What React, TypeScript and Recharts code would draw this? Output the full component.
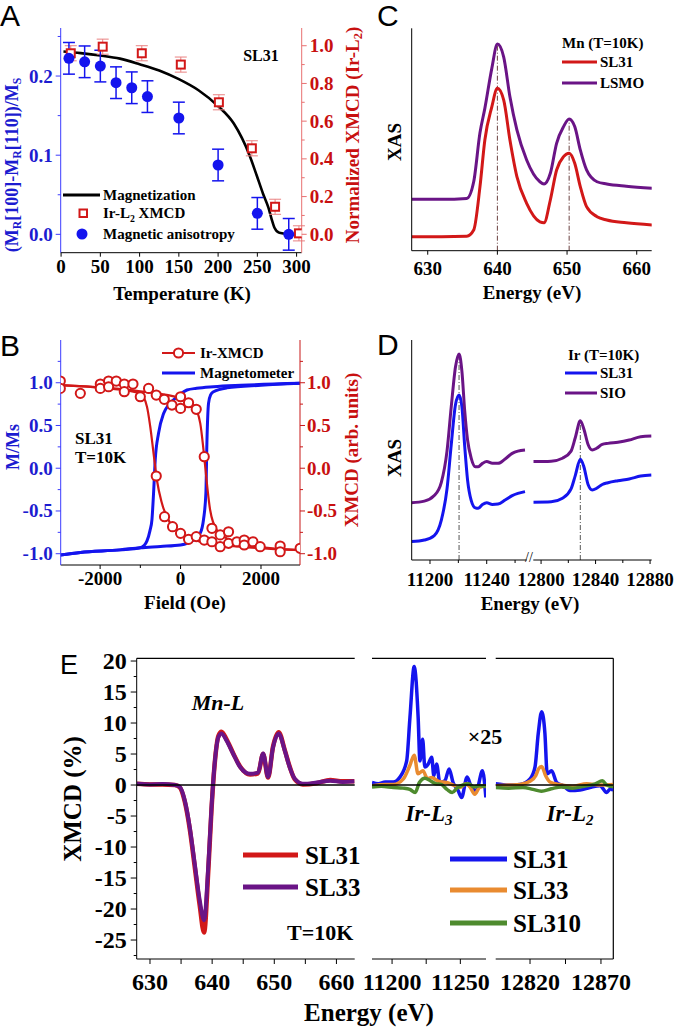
import React from 'react';
import { ComposedChart, Line, Scatter, XAxis, YAxis, ErrorBar, ReferenceLine } from 'recharts';

const SERIF = '"Liberation Serif", "Times New Roman", serif';
const SANS = '"Liberation Sans", Arial, sans-serif';

const BLUE = '#1414ee';
const RED = '#d21818';
const PURPLE = '#6a1486';
const ORANGE = '#e98b30';
const GREEN = '#4e8b2e';

// ---------- A: temperature dependence ----------
const aTempAniso = [10, 30, 50, 70, 90, 110, 150, 200, 250, 290];
const aAniso = [0.2224, 0.218, 0.2126, 0.1916, 0.1852, 0.174, 0.147, 0.0876, 0.0265, 0.0];
const aAnisoErr = [0.02, 0.02, 0.02, 0.02, 0.02, 0.02, 0.02, 0.02, 0.02, 0.02];
const aTempXmcd = [12.3, 53, 102.8, 152.5, 201, 243, 272.6, 303];
const aXmcd = [0.96, 0.995, 0.96, 0.9, 0.7, 0.456, 0.146, 0.005];
const aXmcdErr = [0.04, 0.04, 0.04, 0.04, 0.04, 0.04, 0.04, 0.04];
const aTempMag = [3, 25, 50, 75, 100, 125, 150, 175, 200, 220, 240, 249, 257, 264, 268, 272, 278, 290, 306];
const aMag = [0.231, 0.229, 0.226, 0.222, 0.215, 0.207, 0.196, 0.182, 0.162, 0.14, 0.1, 0.075, 0.052, 0.034, 0.02, 0.008, 0.002, 0.0005, 0];

// ---------- B: hysteresis ----------
const bBlueUpH = [-2990, -2492, -1500, -1001, -900, -835, -760, -711, -671, -629, -547, -422, -300, -174, 0, 159, 400, 820, 1500, 2974];
const bBlueUpM = [-1.015, -0.985, -0.955, -0.93, -0.9, -0.85, -0.73, -0.6, -0.29, 0.1, 0.41, 0.64, 0.74, 0.8, 0.87, 0.915, 0.935, 0.953, 0.97, 0.993];
const bBlueDnH = [-2990, -2492, -1500, -1001, -500, 0, 323, 490, 571, 630, 655, 696, 750, 820, 1153, 2000, 2974];
const bBlueDnM = [-1.015, -0.985, -0.955, -0.93, -0.915, -0.898, -0.84, -0.76, -0.6, -0.29, 0.29, 0.76, 0.86, 0.895, 0.94, 0.97, 0.993];
const bRed1H = [-2990, -1829, -1001, -835, -753, -671, -588, -463, -256, 0, 490, 1483, 2974];
const bRed1M = [0.973, 0.934, 0.876, 0.72, 0.485, 0.174, -0.138, -0.41, -0.644, -0.76, -0.86, -0.918, -0.957];
const bRed2H = [-2990, -1001, 0, 323, 490, 571, 655, 736, 902, 1236, 1898, 2974];
const bRed2M = [0.973, 0.9, 0.818, 0.74, 0.525, 0.213, -0.177, -0.489, -0.723, -0.84, -0.918, -0.957];
const bPtsH = [-2990, -2990, -2492, -1995, -1995, -1789, -1789, -1598, -1399, -1399, -1183, -1001, -795, -604, -405, -214, 0, 0, 199, 390, 589,
  -604, -398, -199, 0, 199, 390, 589, 780, 780, 986, 986, 1193, 1193, 1401, 1583, 1583, 1799, 1980, 2477, 2477, 2974];
const bPtsM = [1.02, 0.934, 0.876, 0.985, 0.934, 1.02, 0.953, 1.02, 0.985, 0.895, 0.985, 0.836, 0.934, 0.856, 0.806, 0.739, 0.836, 0.7, 0.766, 0.689, 0.135,
  -0.091, -0.567, -0.684, -0.762, -0.832, -0.8, -0.84, -0.703, -0.86, -0.78, -0.918, -0.743, -0.879, -0.86, -0.84, -0.898, -0.86, -0.918, -0.91, -0.977, -0.937];

// ---------- C: Mn XAS ----------
const cE = [627.7, 632, 635.6, 636.6, 637.5, 638.2, 639.2, 640.0, 640.9, 641.8, 642.8, 644.2, 646.1, 646.7, 647.6, 648.5, 649.5, 650.3, 651.1, 651.9, 652.8, 654.3, 655.7, 658.5, 662.2];
const cSL31 = [0.063, 0.063, 0.065, 0.093, 0.288, 0.498, 0.647, 0.73, 0.678, 0.498, 0.333, 0.213, 0.13, 0.126, 0.228, 0.363, 0.423, 0.438, 0.393, 0.288, 0.198, 0.153, 0.138, 0.126, 0.116];
const cLSMO = [0.231, 0.231, 0.235, 0.31, 0.53, 0.64, 0.82, 0.929, 0.872, 0.692, 0.543, 0.408, 0.31, 0.3, 0.348, 0.483, 0.558, 0.592, 0.558, 0.453, 0.363, 0.31, 0.3, 0.29, 0.281];
const cPeakE = [640.0, 650.3];
const cPeakTop = [0.929, 0.592];

// ---------- D: Ir XAS ----------
const dLE = [11187, 11196, 11203, 11208, 11212, 11215, 11218, 11220.5, 11222.5, 11224.5, 11226.5, 11229, 11232, 11234, 11237, 11240, 11244, 11248, 11253, 11258, 11262, 11267];
const dLSIO = [0.268, 0.275, 0.3, 0.36, 0.5, 0.7, 0.88, 0.937, 0.86, 0.68, 0.55, 0.47, 0.43, 0.43, 0.445, 0.453, 0.445, 0.445, 0.465, 0.49, 0.5, 0.505];
const dLSL31 = [0.093, 0.1, 0.12, 0.19, 0.33, 0.53, 0.71, 0.753, 0.7, 0.52, 0.37, 0.28, 0.245, 0.243, 0.26, 0.268, 0.26, 0.262, 0.28, 0.3, 0.31, 0.318];
const dRE = [12794.3, 12807.4, 12815.7, 12822, 12825.1, 12828.8, 12831.4, 12834.5, 12837.6, 12840.8, 12844.9, 12849.1, 12856.4, 12864.7, 12873.1, 12881];
const dRSIO = [0.453, 0.455, 0.468, 0.5, 0.56, 0.637, 0.6, 0.53, 0.505, 0.513, 0.53, 0.535, 0.54, 0.55, 0.565, 0.568];
const dRSL31 = [0.27, 0.272, 0.288, 0.33, 0.39, 0.463, 0.43, 0.35, 0.325, 0.333, 0.35, 0.358, 0.367, 0.375, 0.388, 0.393];
const dPeakL = 11220.5;
const dPeakLTop = 0.937;
const dPeakR = 12828.8;
const dPeakRTop = 0.637;

// ---------- E: XMCD ----------
const eMnE = [627.9, 630, 632, 634, 634.8, 635.6, 636.4, 637.2, 638.0, 638.7, 639.4, 639.9, 640.4, 641.0, 641.5, 642.3, 643.4, 644.5, 646.1, 647.4, 648.2, 649.0, 649.8, 650.7, 651.7, 652.5, 653.3, 654.6, 656.8, 659, 661, 662.9];
const eMnSL31 = [0.2, 0.1, 0.1, 0.0, -0.4, -2.7, -7.1, -13.2, -19.4, -23.8, -13.5, -3.9, 3.3, 7.9, 8.6, 7.4, 5.1, 3.0, 1.7, 1.9, 5.0, 1.2, 6.2, 8.5, 5.6, 2.9, 0.9, 0.1, 0.3, 0.8, 0.6, 0.6];
const eMnSL33 = [0.2, 0.1, 0.15, 0.0, -0.3, -2.5, -6.8, -12.7, -18.6, -21.8, -12.7, -3.6, 3.4, 7.7, 8.3, 7.2, 5.0, 2.9, 1.8, 2.0, 5.1, 1.3, 6.1, 8.3, 5.5, 2.8, 1.0, 0.2, 0.4, 0.7, 0.5, 0.6];
const eL3E31 = [11185.3, 11190, 11195, 11200.9, 11205.8, 11210.7, 11213.1, 11216.2, 11219.1, 11220.4, 11222.4, 11224, 11226.5, 11229, 11230.6, 11232.6, 11235, 11238.7, 11241.8, 11244.7, 11248.4, 11250.9, 11255, 11258.2, 11261.8, 11266.2, 11268.7];
const eL3SL31 = [0.4, 0.2, 0.5, 0.5, 1.3, 3.9, 10.9, 19.1, 10.9, 3.9, 7.4, 2.9, 3.4, 4.5, 1.5, 3.4, 0.4, 0.7, 2.6, 0.4, -0.9, -2.0, 1.3, -0.4, -0.9, 2.3, -2.0];
const eL3E33 = [11185.3, 11195, 11201, 11208.3, 11213.1, 11216.2, 11219, 11222.6, 11226, 11229, 11234, 11240, 11245, 11249.6, 11254, 11257, 11260.6, 11264, 11268.7];
const eL3SL33 = [-0.1, 0.1, 0.1, 1.0, 3.2, 4.8, 1.8, 2.3, 1.0, 1.2, 0.6, 0.4, 0.0, -0.4, 0.2, -0.3, -1.5, -0.4, -0.1];
const eL3E310 = [11185.3, 11192, 11201, 11208, 11213, 11216.9, 11220, 11224, 11228, 11232, 11236, 11240.2, 11244, 11248, 11252, 11256, 11260, 11264, 11268.7];
const eL3SL310 = [-0.3, -0.2, -0.4, -0.5, -0.7, -1.2, 0.4, 1.1, 0.7, 0.2, 0.1, -0.7, -1.2, -0.4, 0.0, 0.2, -0.3, -0.1, -0.3];
const eL2E31 = [12795.8, 12805, 12812.9, 12820, 12823.5, 12825.8, 12828.2, 12830.5, 12832.1, 12835.2, 12838.8, 12843.4, 12848.1, 12855.2, 12862.2, 12869.3, 12874, 12876.8, 12878.7];
const eL2SL31 = [0.2, 0.0, 0.1, 1.0, 2.9, 8.3, 11.8, 8.3, 1.8, 2.3, 0.4, -0.1, -0.9, -0.8, -0.4, -0.1, -1.2, -0.6, -0.9];
const eL2E33 = [12795.8, 12805, 12813, 12820, 12824, 12826, 12828.2, 12831, 12834, 12840, 12850, 12860, 12870, 12878.7];
const eL2SL33 = [-0.1, 0.0, 0.1, 0.6, 1.5, 2.6, 3.0, 1.5, 0.5, 0.1, -0.2, 0.2, 0.0, 0.1];
const eL2E310 = [12795.8, 12805, 12815, 12822, 12828, 12835, 12842, 12850, 12858, 12866, 12871, 12874, 12878.7];
const eL2SL310 = [-0.4, -0.5, -0.4, -0.7, -1.0, -0.6, -0.3, -0.5, -0.2, 0.2, 0.7, 0.0, -0.3];

const eTicksY = [-27.5, -25, -22.5, -20, -17.5, -15, -12.5, -10, -7.5, -5, -2.5, 0, 2.5, 5, 7.5, 10, 12.5, 15, 17.5, 20];
const eMajorsY = [-25, -20, -15, -10, -5, 0, 5, 10, 15, 20];
const eYDomain = [-28.06, 20.44];

type P = { x: number; y: number; e?: number };
const zip = (xs: number[], ys: number[], es?: number[]): P[] =>
  xs.map((x, i) => ({ x, y: ys[i], e: es ? es[i] : undefined }));

type TickOpt = {
  side: 'left' | 'right' | 'bottom';
  majors: number[];
  color: string;
  line?: string;
  size: number;
  len?: number;
  minor?: number;
  gap?: number;
  base?: number;
  fmt?: (v: number) => string;
};

const tickFn = (o: TickOpt) => (p: any) => {
  const v = Number(p.payload?.value);
  const major = o.majors.some((m) => Math.abs(m - v) < 1e-6);
  const len = major ? o.len ?? 5 : o.minor ?? 3;
  const stroke = o.line ?? o.color;
  const label = major ? (o.fmt ? o.fmt(v) : String(v)) : '';
  if (o.side === 'bottom') {
    return (
      <g>
        <line x1={p.x} y1={p.y} x2={p.x} y2={p.y + len} stroke={stroke} strokeWidth={1} />
        {label && (
          <text x={p.x} y={p.y + (o.base ?? 20)} textAnchor="middle" fontFamily={SERIF} fontWeight={700} fontSize={o.size} fill={o.color}>
            {label}
          </text>
        )}
      </g>
    );
  }
  const d = o.side === 'left' ? -1 : 1;
  return (
    <g>
      <line x1={p.x} y1={p.y} x2={p.x + d * len} y2={p.y} stroke={stroke} strokeWidth={1} />
      {label && (
        <text
          x={p.x + d * (len + (o.gap ?? 3))}
          y={p.y}
          textAnchor={d < 0 ? 'end' : 'start'}
          dominantBaseline="central"
          fontFamily={SERIF}
          fontWeight={700}
          fontSize={o.size}
          fill={o.color}
        >
          {label}
        </text>
      )}
    </g>
  );
};

const f1 = (v: number) => v.toFixed(1);
const axisBase = { type: 'number' as const, allowDataOverflow: true, interval: 0 as const, tickSize: 0, tickMargin: 0, tickLine: false };

const squareShape = (p: any) => (
  <rect x={p.cx - 4} y={p.cy - 4} width={8} height={8} fill="#fff" stroke={RED} strokeWidth={2} />
);
const dotShape = (p: any) => <circle cx={p.cx} cy={p.cy} r={5.5} fill={BLUE} />;
const ringShape = (p: any) => <circle cx={p.cx} cy={p.cy} r={4.6} fill="#fff" stroke={RED} strokeWidth={2} />;

// text pieces: plain strings, or {s: '...'} for a subscript
const withSubs = (parts: (string | { s: string })[], size: number) => {
  const d = size * 0.3;
  let lowered = false;
  return parts.map((part, i) => {
    if (typeof part === 'string') {
      const dy = lowered ? -d : 0;
      lowered = false;
      return <tspan key={i} dy={dy}>{part}</tspan>;
    }
    lowered = true;
    return <tspan key={i} dy={d} fontSize={size * 0.65}>{part.s}</tspan>;
  });
};

const Txt = ({ x, y, s, c = '#000', a = 'start', i = false, rot = false, w = 700, f = SERIF, children }: any) => (
  <text
    x={rot ? 0 : x}
    y={rot ? 0 : y}
    transform={rot ? `translate(${x},${y}) rotate(-90)` : undefined}
    textAnchor={a}
    dominantBaseline="central"
    fontFamily={f}
    fontSize={s}
    fontWeight={w}
    fontStyle={i ? 'italic' : 'normal'}
    fill={c}
  >
    {children}
  </text>
);

function PanelA() {
  return (
    <div style={{ position: 'absolute', left: 0, top: 0 }}>
      <ComposedChart width={340} height={300} margin={{ top: 28, right: 0.3, bottom: 17.3, left: 0.7 }}>
        <XAxis {...axisBase} dataKey="x" domain={[-0.5, 306.5]} ticks={[0, 50, 100, 150, 200, 250, 300]} height={30}
          axisLine={{ stroke: '#000' }} tick={tickFn({ side: 'bottom', majors: [0, 50, 100, 150, 200, 250, 300], color: '#000', size: 19, len: 4, base: 20 })} />
        <YAxis {...axisBase} yAxisId="l" domain={[-0.0232, 0.2607]} ticks={[0, 0.05, 0.1, 0.15, 0.2, 0.25]} width={60}
          axisLine={{ stroke: '#3c3cff' }} tick={tickFn({ side: 'left', majors: [0, 0.1, 0.2], color: '#1c1cd0', line: '#3c3cff', size: 19, fmt: f1 })} />
        <YAxis {...axisBase} yAxisId="r" orientation="right" domain={[-0.0976, 1.094]} ticks={[0, 0.1, 0.2, 0.3, 0.4, 0.5, 0.6, 0.7, 0.8, 0.9, 1.0]} width={38}
          axisLine={{ stroke: '#e87070' }} tick={tickFn({ side: 'right', majors: [0, 0.2, 0.4, 0.6, 0.8, 1.0], color: '#c81010', line: '#e87070', size: 19, fmt: f1 })} />
        <Line yAxisId="l" data={zip(aTempMag, aMag)} dataKey="y" type="monotone" stroke="#000" strokeWidth={2.6} dot={false} isAnimationActive={false} />
        <Scatter yAxisId="r" data={zip(aTempXmcd, aXmcd, aXmcdErr)} dataKey="y" shape={squareShape} isAnimationActive={false}>
          <ErrorBar dataKey="e" direction="y" width={6} stroke="#e98080" strokeWidth={1} />
        </Scatter>
        <Scatter yAxisId="l" data={zip(aTempAniso, aAniso, aAnisoErr)} dataKey="y" shape={dotShape} isAnimationActive={false}>
          <ErrorBar dataKey="e" direction="y" width={6} stroke={BLUE} strokeWidth={1.5} />
        </Scatter>
      </ComposedChart>
    </div>
  );
}

function PanelB() {
  const mj = [-1, -0.5, 0, 0.5, 1];
  const all = [-1, -0.75, -0.5, -0.25, 0, 0.25, 0.5, 0.75, 1, 1.25];
  return (
    <div style={{ position: 'absolute', left: 0, top: 330 }}>
      <ComposedChart width={340} height={300} margin={{ top: 10, right: 2, bottom: 35, left: 0.7 }}>
        <XAxis {...axisBase} dataKey="x" domain={[-2980, 2970]} ticks={[-2000, -1000, 0, 1000, 2000]} height={30}
          axisLine={{ stroke: '#000' }} tick={tickFn({ side: 'bottom', majors: [-2000, 0, 2000], color: '#000', size: 19, len: 4, base: 20 })} />
        <YAxis {...axisBase} yAxisId="l" domain={[-1.132, 1.5]} ticks={all} width={60}
          axisLine={{ stroke: '#3c3cff' }} tick={tickFn({ side: 'left', majors: mj, color: '#1c1cd0', line: '#3c3cff', size: 19, fmt: f1 })} />
        <YAxis {...axisBase} yAxisId="r" orientation="right" domain={[-1.132, 1.5]} ticks={all} width={38}
          axisLine={{ stroke: '#c81818' }} tick={tickFn({ side: 'right', majors: mj, color: '#c81010', line: '#c81818', size: 19, gap: 2, fmt: f1 })} />
        <Line yAxisId="l" data={zip(bBlueUpH, bBlueUpM)} dataKey="y" type="monotone" stroke={BLUE} strokeWidth={3} dot={false} isAnimationActive={false} />
        <Line yAxisId="l" data={zip(bBlueDnH, bBlueDnM)} dataKey="y" type="monotone" stroke={BLUE} strokeWidth={3} dot={false} isAnimationActive={false} />
        <Line yAxisId="r" data={zip(bRed1H, bRed1M)} dataKey="y" type="monotone" stroke={RED} strokeWidth={2.2} dot={false} isAnimationActive={false} />
        <Line yAxisId="r" data={zip(bRed2H, bRed2M)} dataKey="y" type="monotone" stroke={RED} strokeWidth={2.2} dot={false} isAnimationActive={false} />
        <Scatter yAxisId="r" data={zip(bPtsH, bPtsM)} dataKey="y" shape={ringShape} isAnimationActive={false} />
      </ComposedChart>
    </div>
  );
}

function PanelC() {
  return (
    <div style={{ position: 'absolute', left: 340, top: 0 }}>
      <ComposedChart width={337} height={300} margin={{ top: 28.3, right: 25.3, bottom: 19.3, left: 0 }}>
        <XAxis {...axisBase} dataKey="x" domain={[627.7, 662.15]} ticks={[630, 640, 650, 660]} height={30}
          axisLine={{ stroke: '#000' }} tick={tickFn({ side: 'bottom', majors: [630, 640, 650, 660], color: '#000', size: 19, len: 4, base: 24 })} />
        <YAxis type="number" domain={[0, 1]} allowDataOverflow width={71.7} tick={false} tickLine={false} axisLine={{ stroke: '#000' }} />
        {cPeakE.map((e, i) => (
          <ReferenceLine key={i} segment={[{ x: e, y: 0 }, { x: e, y: cPeakTop[i] }]} stroke="#6a4040" strokeWidth={1} strokeDasharray="5 2 1 2" />
        ))}
        <Line data={zip(cE, cSL31)} dataKey="y" type="monotone" stroke={RED} strokeWidth={3} dot={false} isAnimationActive={false} />
        <Line data={zip(cE, cLSMO)} dataKey="y" type="monotone" stroke={PURPLE} strokeWidth={3} dot={false} isAnimationActive={false} />
      </ComposedChart>
    </div>
  );
}

function PanelD() {
  return (
    <>
      <div style={{ position: 'absolute', left: 340, top: 330 }}>
        <ComposedChart width={190} height={300} margin={{ top: 10, right: 3.3, bottom: 30, left: 0 }}>
          <XAxis {...axisBase} dataKey="x" domain={[11187.1, 11268.2]} ticks={[11200, 11220, 11240, 11260]} height={40}
            axisLine={{ stroke: '#000' }} tick={tickFn({ side: 'bottom', majors: [11200, 11240], color: '#000', size: 19, len: 4, minor: 3, base: 26 })} />
          <YAxis type="number" domain={[0.0103, 1]} allowDataOverflow width={71.7} tick={false} tickLine={false} axisLine={{ stroke: '#000' }} />
          <ReferenceLine segment={[{ x: dPeakL, y: 0.0103 }, { x: dPeakL, y: dPeakLTop }]} stroke="#555" strokeWidth={1} strokeDasharray="5 2 1 2" />
          <Line data={zip(dLE, dLSL31)} dataKey="y" type="monotone" stroke={BLUE} strokeWidth={3} dot={false} isAnimationActive={false} />
          <Line data={zip(dLE, dLSIO)} dataKey="y" type="monotone" stroke={PURPLE} strokeWidth={3} dot={false} isAnimationActive={false} />
        </ComposedChart>
      </div>
      <div style={{ position: 'absolute', left: 500, top: 330 }}>
        <ComposedChart width={177} height={300} margin={{ top: 10, right: 25.3, bottom: 30, left: 33.3 }}>
          <XAxis {...axisBase} dataKey="x" domain={[12794.3, 12881.2]} ticks={[12800, 12820, 12840, 12860, 12880]} height={40}
            axisLine={{ stroke: '#000' }} tick={tickFn({ side: 'bottom', majors: [12800, 12840, 12880], color: '#000', size: 19, len: 4, minor: 3, base: 26 })} />
          <YAxis hide type="number" domain={[0.0103, 1]} allowDataOverflow />
          <ReferenceLine segment={[{ x: dPeakR, y: 0.0103 }, { x: dPeakR, y: dPeakRTop }]} stroke="#555" strokeWidth={1} strokeDasharray="5 2 1 2" />
          <Line data={zip(dRE, dRSL31)} dataKey="y" type="monotone" stroke={BLUE} strokeWidth={3} dot={false} isAnimationActive={false} />
          <Line data={zip(dRE, dRSIO)} dataKey="y" type="monotone" stroke={PURPLE} strokeWidth={3} dot={false} isAnimationActive={false} />
        </ComposedChart>
      </div>
    </>
  );
}

type Series = { data: P[]; color: string; w: number };

function ESeg(props: {
  left: number; width: number; ml: number; mr: number; domain: number[]; ticks: number[]; majors: number[];
  series: Series[]; yAxis?: boolean; rightAxis?: boolean;
}) {
  const { left, width, ml, mr, domain, ticks, majors, series, yAxis, rightAxis } = props;
  return (
    <div style={{ position: 'absolute', left, top: 640 }}>
      <ComposedChart width={width} height={370} margin={{ top: 18.3, right: mr, bottom: 11, left: yAxis ? 0 : ml }}>
        <XAxis {...axisBase} dataKey="x" domain={domain} ticks={ticks} height={40}
          axisLine={{ stroke: '#000' }} tick={tickFn({ side: 'bottom', majors, color: '#000', size: 24, len: 5, minor: 5, base: 31 })} />
        {yAxis ? (
          <YAxis {...axisBase} domain={eYDomain} ticks={eTicksY} width={ml}
            axisLine={{ stroke: '#000' }} tick={tickFn({ side: 'left', majors: eMajorsY, color: '#000', size: 24, len: 6, minor: 3, gap: 4 })} />
        ) : (
          <YAxis hide type="number" domain={eYDomain} allowDataOverflow />
        )}
        {/* frame: top border of every segment, right border of the last one */}
        <ReferenceLine y={eYDomain[1]} stroke="#000" strokeWidth={1.2} />
        {rightAxis && <ReferenceLine x={domain[1]} stroke="#000" strokeWidth={1.2} />}
        {series.map((s, i) => (
          <Line key={i} data={s.data} dataKey="y" type="monotone" stroke={s.color} strokeWidth={s.w} dot={false} isAnimationActive={false} />
        ))}
        <ReferenceLine y={0} stroke="#000" strokeWidth={1.5} />
      </ComposedChart>
    </div>
  );
}

function PanelE() {
  return (
    <>
      <ESeg left={0} width={360} ml={136.7} mr={5.3} domain={[627.86, 662.94]} ticks={[630, 635, 640, 645, 650, 655, 660]} majors={[630, 640, 650, 660]} yAxis
        series={[{ data: zip(eMnE, eMnSL31), color: RED, w: 4.5 }, { data: zip(eMnE, eMnSL33), color: PURPLE, w: 4 }]} />
      <ESeg left={350} width={150} ml={22} mr={14} domain={[11185.3, 11268.8]} ticks={[11200, 11225, 11250]} majors={[11200, 11250]}
        series={[{ data: zip(eL3E31, eL3SL31), color: BLUE, w: 3.5 }, { data: zip(eL3E33, eL3SL33), color: ORANGE, w: 3.5 }, { data: zip(eL3E310, eL3SL310), color: GREEN, w: 3.5 }]} />
      <ESeg left={490} width={160} ml={5.7} mr={36.7} domain={[12795.8, 12878.7]} ticks={[12820, 12845, 12870]} majors={[12820, 12870]} rightAxis
        series={[{ data: zip(eL2E31, eL2SL31), color: BLUE, w: 3.5 }, { data: zip(eL2E33, eL2SL33), color: ORANGE, w: 3.5 }, { data: zip(eL2E310, eL2SL310), color: GREEN, w: 3.5 }]} />
    </>
  );
}

function Overlay() {
  return (
    <svg width={677} height={1028} style={{ position: 'absolute', left: 0, top: 0, pointerEvents: 'none' }}>
      {/* panel letters */}
      <Txt x={0} y={15} s={30} w={400} f={SANS}>A</Txt>
      <Txt x={0} y={345} s={30} w={400} f={SANS}>B</Txt>
      <Txt x={377} y={15} s={30} w={400} f={SANS}>C</Txt>
      <Txt x={377} y={344} s={30} w={400} f={SANS}>D</Txt>
      <Txt x={60} y={665} s={27} w={400} f={SANS}>E</Txt>

      {/* A */}
      <Txt x={182} y={293} s={19} a="middle">Temperature (K)</Txt>
      <Txt x={12} y={165} s={18} a="middle" rot c="#1c1cd0">
        {withSubs(['(M', { s: 'R' }, '[100]-M', { s: 'R' }, '[110])/M', { s: 'S' }], 18)}
      </Txt>
      <Txt x={352} y={135} s={19} a="middle" rot c="#c81010">
        {withSubs(['Normalized XMCD (Ir-L', { s: '2' }, ')'], 19)}
      </Txt>
      <Txt x={261} y={55} s={16} a="middle">SL31</Txt>
      <line x1={63} y1={195} x2={100} y2={195} stroke="#000" strokeWidth={3} />
      <Txt x={103} y={195} s={15}>Magnetization</Txt>
      <rect x={79.5} y={209.5} width={7.5} height={7.5} fill="#fff" stroke={RED} strokeWidth={2} />
      <Txt x={103} y={213} s={15}>{withSubs(['Ir-L', { s: '2' }, ' XMCD'], 15)}</Txt>
      <circle cx={82} cy={234} r={5.5} fill={BLUE} />
      <Txt x={103} y={234} s={15}>Magnetic anisotropy</Txt>

      {/* B */}
      <Txt x={185} y={602} s={19} a="middle">Field (Oe)</Txt>
      <Txt x={12.5} y={447} s={18} a="middle" rot c="#1c1cd0">M/Ms</Txt>
      <Txt x={351} y={450} s={19} a="middle" rot c="#c81010">XMCD (arb. units)</Txt>
      <Txt x={75} y={438} s={17}>SL31</Txt>
      <Txt x={75} y={457} s={17}>T=10K</Txt>
      <line x1={162} y1={353} x2={195} y2={353} stroke={RED} strokeWidth={2.2} />
      <circle cx={178.5} cy={353} r={4.6} fill="#fff" stroke={RED} strokeWidth={2} />
      <Txt x={200} y={353} s={15}>Ir-XMCD</Txt>
      <line x1={162} y1={373} x2={195} y2={373} stroke={BLUE} strokeWidth={3} />
      <Txt x={200} y={373} s={15}>Magnetometer</Txt>

      {/* C */}
      <Txt x={532} y={292} s={19} a="middle">Energy (eV)</Txt>
      <Txt x={394} y={142} s={19} a="middle" rot>XAS</Txt>
      <Txt x={562} y={43} s={15}>Mn (T=10K)</Txt>
      <line x1={562} y1={62} x2={597} y2={62} stroke={RED} strokeWidth={3} />
      <Txt x={600} y={62} s={15}>SL31</Txt>
      <line x1={562} y1={83} x2={597} y2={83} stroke={PURPLE} strokeWidth={3} />
      <Txt x={600} y={83} s={15}>LSMO</Txt>

      {/* D */}
      <Txt x={530} y={603} s={19} a="middle">Energy (eV)</Txt>
      <Txt x={394} y={458} s={19} a="middle" rot>XAS</Txt>
      <Txt x={568} y={355} s={15}>Ir (T=10K)</Txt>
      <line x1={565} y1={373} x2={597} y2={373} stroke={BLUE} strokeWidth={3} />
      <Txt x={600} y={373} s={15}>SL31</Txt>
      <line x1={565} y1={393} x2={597} y2={393} stroke={PURPLE} strokeWidth={3} />
      <Txt x={600} y={393} s={15}>SIO</Txt>
      <Txt x={529} y={557} s={14} a="middle" w={400}>//</Txt>

      {/* E */}
      <Txt x={72} y={799} s={25} a="middle" rot>XMCD (%)</Txt>
      <Txt x={369} y={1012} s={25} a="middle">Energy (eV)</Txt>
      <Txt x={218} y={702} s={22} a="middle" i>Mn-L</Txt>
      <Txt x={485} y={736} s={22} a="middle">×25</Txt>
      <Txt x={429} y={813} s={23} a="middle" i>{withSubs(['Ir-L', { s: '3' }], 23)}</Txt>
      <Txt x={570} y={813} s={23} a="middle" i>{withSubs(['Ir-L', { s: '2' }], 23)}</Txt>
      <line x1={243} y1={855} x2={298} y2={855} stroke={RED} strokeWidth={5} />
      <Txt x={305} y={855} s={25}>SL31</Txt>
      <line x1={243} y1={887} x2={298} y2={887} stroke={PURPLE} strokeWidth={5} />
      <Txt x={305} y={887} s={25}>SL33</Txt>
      <Txt x={287} y={932} s={22}>T=10K</Txt>
      <line x1={450} y1={859} x2={507} y2={859} stroke={BLUE} strokeWidth={5} />
      <Txt x={513} y={859} s={25}>SL31</Txt>
      <line x1={450} y1={890} x2={507} y2={890} stroke={ORANGE} strokeWidth={5} />
      <Txt x={513} y={890} s={25}>SL33</Txt>
      <line x1={450} y1={923} x2={507} y2={923} stroke={GREEN} strokeWidth={5} />
      <Txt x={513} y={923} s={25}>SL310</Txt>
    </svg>
  );
}

export default function App() {
  return (
    <div style={{ position: 'absolute', left: 0, top: 0, width: 677, height: 1028, background: '#fff', overflow: 'hidden' }}>
      <PanelA />
      <PanelB />
      <PanelC />
      <PanelD />
      <PanelE />
      <Overlay />
    </div>
  );
}
